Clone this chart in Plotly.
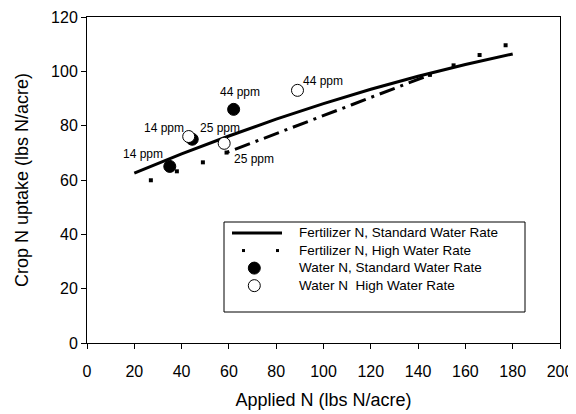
import plotly.graph_objects as go

# ---------------- data ----------------
fert_std_x = [20, 40, 60, 80, 100, 120, 140, 160, 180]
fert_std_y = [62.5, 69.6, 76.2, 82.4, 88.1, 93.4, 98.2, 102.5, 106.4]

fert_high_x = [27, 38, 49, 59, 70, 80, 91, 101, 112, 123, 134, 145, 155, 166, 177]
fert_high_y = [59.9, 63.2, 66.5, 70.1, 73.7, 77.1, 80.6, 84.0, 87.7, 91.4, 95.0, 98.7, 102.2, 106.0, 109.6]

water_std_x = [35, 44.5, 62]
water_std_y = [65, 75, 86]
water_std_labels = ["14 ppm", "25 ppm", "44 ppm"]

water_high_x = [43, 58, 89]
water_high_y = [76, 73.5, 93]
water_high_labels = ["14 ppm", "25 ppm", "44 ppm"]

legend_labels = [
    "Fertilizer N, Standard Water Rate",
    "Fertilizer N, High Water Rate",
    "Water N, Standard Water Rate",
    "Water N  High Water Rate",
]

x_ticks = list(range(0, 201, 20))
y_ticks = list(range(0, 121, 20))

# ---------------- figure ----------------
FONT = "Liberation Sans, Arial, sans-serif"
fig = go.Figure()

fig.add_trace(go.Scatter(x=fert_std_x, y=fert_std_y, mode="lines",
                         line=dict(color="black", width=3), showlegend=False))

# high-water curve: dots at the ends, dash-dot in the middle
dot_x = [xv for xv in fert_high_x if xv <= 59 or xv >= 145]
dot_y = [yv for xv, yv in zip(fert_high_x, fert_high_y) if xv <= 59 or xv >= 145]
mid_x = [xv for xv in fert_high_x if 59 <= xv <= 145]
mid_y = [yv for xv, yv in zip(fert_high_x, fert_high_y) if 59 <= xv <= 145]

fig.add_trace(go.Scatter(x=mid_x, y=mid_y, mode="lines",
                         line=dict(color="black", width=3, dash="3px,6px,16px,6px"),
                         showlegend=False))
fig.add_trace(go.Scatter(x=dot_x, y=dot_y, mode="markers",
                         marker=dict(color="black", symbol="square", size=4, line=dict(width=0)),
                         showlegend=False))

fig.add_trace(go.Scatter(x=water_std_x, y=water_std_y, mode="markers",
                         marker=dict(color="black", size=12, line=dict(color="black", width=1)),
                         showlegend=False))
fig.add_trace(go.Scatter(x=water_high_x, y=water_high_y, mode="markers",
                         marker=dict(color="white", size=12, line=dict(color="black", width=1)),
                         showlegend=False))

# point labels
std_shift = [(-27, 12), (28, 11), (6, 17)]
high_shift = [(-25, 9), (30, -16), (26, 9)]
for xv, yv, t, (dx, dy) in zip(water_std_x, water_std_y, water_std_labels, std_shift):
    fig.add_annotation(x=xv, y=yv, text=t, showarrow=False, xshift=dx, yshift=dy,
                       font=dict(size=12, color="black", family=FONT))
for xv, yv, t, (dx, dy) in zip(water_high_x, water_high_y, water_high_labels, high_shift):
    fig.add_annotation(x=xv, y=yv, text=t, showarrow=False, xshift=dx, yshift=dy,
                       font=dict(size=12, color="black", family=FONT))

# ---------------- layout geometry (page body adds an 8px offset) ----------------
OFF = 8
FIG_W, FIG_H = 576 - OFF, 414 - OFF
L, T, W, H = 87 - OFF, 17 - OFF, 473, 326

def px(xp):
    # xp in window pixels
    return (xp - OFF - L) / W
def py(yp):
    return (T + H - (yp - OFF)) / H

# ---------------- manual legend ----------------
LEG_FONT = 13.5
row_gap = 1.3 * LEG_FONT
first_row = 233
rows = [first_row + i * row_gap for i in range(4)]

fig.add_shape(type="rect", xref="paper", yref="paper",
              x0=px(224), x1=px(525), y0=py(312), y1=py(222),
              line=dict(color="black", width=1), fillcolor="white", layer="above")
fig.add_shape(type="line", xref="paper", yref="paper", x0=px(232), x1=px(282),
              y0=py(rows[0]), y1=py(rows[0]), line=dict(color="black", width=3), layer="above")
for cx in (243.5, 277.5):
    fig.add_shape(type="rect", xref="paper", yref="paper", x0=px(cx - 1.5), x1=px(cx + 1.5),
                  y0=py(rows[1] + 1.5), y1=py(rows[1] - 1.5),
                  line=dict(width=0), fillcolor="black", layer="above")
for r, fc in ((rows[2], "black"), (rows[3], "white")):
    fig.add_shape(type="circle", xref="paper", yref="paper", x0=px(254.3 - 6), x1=px(254.3 + 6),
                  y0=py(r + 6), y1=py(r - 6),
                  line=dict(color="black", width=1), fillcolor=fc, layer="above")
fig.add_annotation(xref="paper", yref="paper", x=px(297), y=py((rows[0] + rows[3]) / 2),
                   text="<br>".join(legend_labels), align="left",
                   showarrow=False, xanchor="left", yanchor="middle",
                   font=dict(size=LEG_FONT, color="black", family=FONT))

axis_common = dict(showline=True, linecolor="black", linewidth=1, mirror=True,
                   ticks="outside", ticklen=5, tickcolor="black", tickwidth=1,
                   showgrid=False, zeroline=False, automargin=False,
                   tickfont=dict(size=16, color="black", family=FONT))

fig.update_layout(
    width=FIG_W, height=FIG_H,
    margin=dict(l=L, r=FIG_W - L - W, t=T, b=FIG_H - T - H),
    paper_bgcolor="white", plot_bgcolor="white",
    font=dict(family=FONT, color="black"),
    showlegend=False,
    xaxis=dict(range=[0, 200], tickvals=x_ticks, ticklabelstandoff=9,
               title=dict(text="Applied N (lbs N/acre)", font=dict(size=18), standoff=14),
               **axis_common),
    yaxis=dict(range=[0, 120], tickvals=y_ticks,
               title=dict(text="Crop N uptake (lbs N/acre)", font=dict(size=18), standoff=17),
               **axis_common),
)

fig.write_html("out.html")
